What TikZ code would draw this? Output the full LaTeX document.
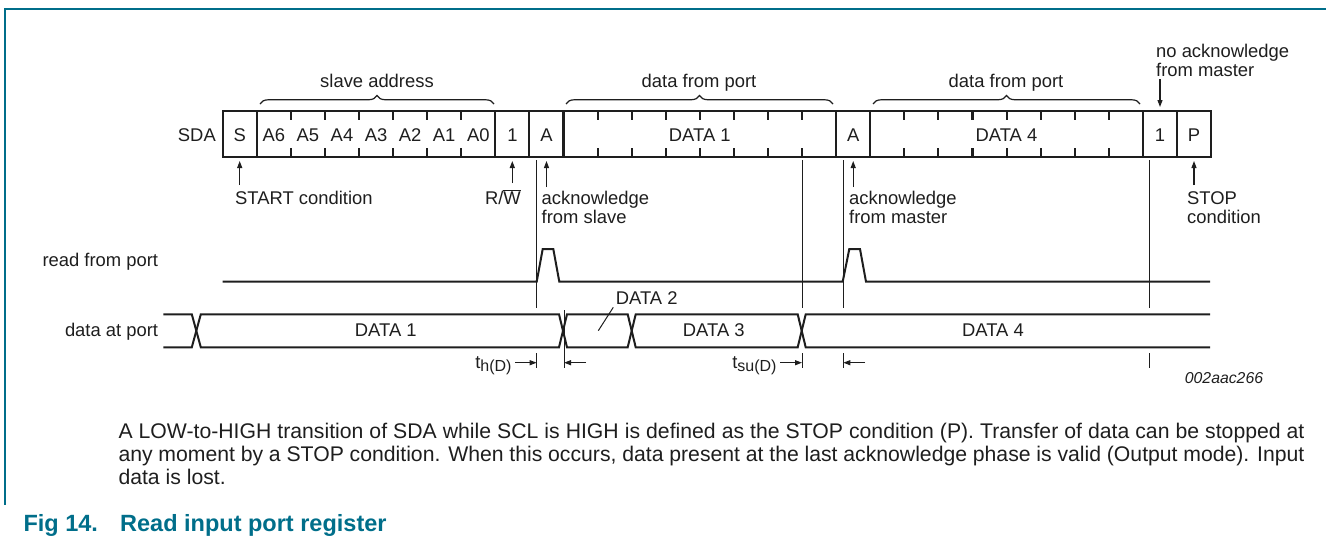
\documentclass[tikz,border=0pt]{standalone}
\usepackage{fontspec}
\setmainfont{Liberation Sans}
\usetikzlibrary{arrows.meta,decorations.pathreplacing}
\definecolor{nxpteal}{RGB}{0,110,138}
\definecolor{ink}{RGB}{30,30,30}
\begin{document}
\begin{tikzpicture}[x=1pt,y=-1pt,
  lbl/.style={font=\fontsize{18.4}{18.7}\selectfont, inner sep=0pt, text=ink},
  para/.style={font=\fontsize{21.2}{23.3}\selectfont, inner sep=0pt, text=ink, anchor=base west},
  ttl/.style={font=\fontsize{23.5}{26}\selectfont\bfseries, inner sep=0pt, text=nxpteal, anchor=base west},
  sdaline/.style={line width=2.1pt, draw=ink},
  sig/.style={line width=2pt, draw=ink, line join=miter},
  thinline/.style={line width=1pt, draw=ink},
  arr/.style={line width=1.1pt, draw=ink, -{Triangle[length=7pt,width=5pt]}},
  brc/.style={line width=1.2pt, draw=ink, decorate, decoration={brace, amplitude=8.5pt}},
  frame/.style={line width=2pt, draw=nxpteal}
]
\useasboundingbox (0,0) rectangle (1326,544);
% frame
\coordinate (fa) at (5,9.3);
\coordinate (fb) at (1326,9.3);
\coordinate (fc) at (5,505);
\draw[frame] (fb) -- (fa) -- (fc);

% SDA register
\draw[sdaline] (222.7,111) rectangle (1211,157);
\foreach \i in {1,8,9,10,18,19,27,28}
  \draw[sdaline] ({222.7+\i*34.08},111) -- ++(0,46);
\foreach \i in {2,...,7}
  {\draw[sdaline] ({222.7+\i*34.08},111) -- ++(0,9);
   \draw[sdaline] ({222.7+\i*34.08},157) -- ++(0,-9);}
\foreach \i in {11,...,17}
  {\draw[sdaline] ({222.7+\i*34.08},111) -- ++(0,9);
   \draw[sdaline] ({222.7+\i*34.08},157) -- ++(0,-9);}
\foreach \i in {20,...,26}
  {\draw[sdaline] ({222.7+\i*34.08},111) -- ++(0,9);
   \draw[sdaline] ({222.7+\i*34.08},157) -- ++(0,-9);}
\foreach \i/\t in {0/S,1/A6,2/A5,3/A4,4/A3,5/A2,6/A1,7/A0,8/1,9/A,18/A,27/1,28/P}
  \node[lbl, anchor=base] (c\i) at ({222.7+(\i+0.5)*34.08},141.7) {\t};
\node[lbl,anchor=base] (d1) at (699.8,141.7) {DATA 1};
\node[lbl,anchor=base] (d4) at (1006.5,141.7) {DATA 4};
\node[lbl,anchor=base east] (sda) at (216,141.7) {SDA};

% braces
\draw[brc] (260,104) -- (494,104);
\draw[brc] (566,104) -- (833,104);
\draw[brc] (873,104) -- (1140,104);
\node[lbl,anchor=base] (slv) at (377,87.3) {slave address};
\node[lbl,anchor=base] (dfp1) at (699,87.3) {data from port};
\node[lbl,anchor=base] (dfp2) at (1006,87.3) {data from port};

% no acknowledge
\node[lbl,anchor=base west] (na1) at (1156,57.3) {no acknowledge};
\node[lbl,anchor=base west] (na2) at (1156,76) {from master};
\coordinate (naT) at (1160,79);
\coordinate (naH) at (1160,107);
\draw[arr] (naT) -- (naH);

% labels below SDA
\node[lbl,anchor=base west] (st) at (235,204.3) {START condition};
\coordinate (stT) at (239.7,185); \coordinate (stH) at (239.7,161);
\draw[arr] (stT) -- (stH);
\node[lbl,anchor=base east] (rw) at (521,204.3) {R/$\overline{\mbox{W}}$};
\coordinate (rwT) at (512.3,183); \coordinate (rwH) at (512.3,161);
\draw[arr] (rwT) -- (rwH);
\node[lbl,anchor=base west] (as1) at (541.5,204.3) {acknowledge};
\node[lbl,anchor=base west] (as2) at (541.5,223) {from slave};
\coordinate (asT) at (546.5,187); \coordinate (asH) at (546.5,161);
\draw[arr] (asT) -- (asH);
\node[lbl,anchor=base west] (am1) at (849,204.3) {acknowledge};
\node[lbl,anchor=base west] (am2) at (849,223) {from master};
\coordinate (amT) at (853.2,187); \coordinate (amH) at (853.2,161);
\draw[arr] (amT) -- (amH);
\node[lbl,anchor=base west] (sp1) at (1187,204.3) {STOP};
\node[lbl,anchor=base west] (sp2) at (1187,223) {condition};
\coordinate (spT) at (1194,185); \coordinate (spH) at (1194,161);
\draw[arr] (spT) -- (spH);

% vertical guide lines
\foreach \x in {536.7,802,843.3,1149.3}
  {\draw[thinline] (\x,160) -- (\x,308);
   \draw[thinline] (\x,353) -- (\x,368);}
\draw[thinline] (564,310) -- (564,368);

% read from port
\node[lbl,anchor=base east] (rfp) at (158.3,266) {read from port};
\draw[sig] (222.7,281.7) -- (536.7,281.7) -- (542.7,249) -- (553.3,249) -- (559.3,281.7)
  -- (842.7,281.7) -- (849.3,249) -- (860,249) -- (866,281.7) -- (1210,281.7);

% data at port
\node[lbl,anchor=base east] (dap) at (158.3,336) {data at port};
\draw[sig] (163.3,314.3) -- (191.8,314.3) -- (200.8,347.3) -- (559,347.3) -- (567,314.3)
  -- (627.7,314.3) -- (635.7,347.3) -- (797.7,347.3) -- (805.7,314.3) -- (1210,314.3);
\draw[sig] (163.3,347.3) -- (191.8,347.3) -- (200.8,314.3) -- (559,314.3) -- (567,347.3)
  -- (627.7,347.3) -- (635.7,314.3) -- (797.7,314.3) -- (805.7,347.3) -- (1210,347.3);
\node[lbl,anchor=base] (pd1) at (385.8,336.7) {DATA 1};
\node[lbl,anchor=base] (pd3) at (713.8,336.7) {DATA 3};
\node[lbl,anchor=base] (pd4) at (993,336.7) {DATA 4};
\node[lbl,anchor=base] (pd2) at (646.7,304) {DATA 2};
\coordinate (ldA) at (613.3,307.3); \coordinate (ldB) at (598.3,330.7);
\draw[thinline] (ldA) -- (ldB);

% timing
\node[lbl,anchor=base east] (th) at (511.7,368) {t\raisebox{-3.5pt}{\fontsize{16}{16}\selectfont h(D)}};
\coordinate (thA) at (515,362.7); \coordinate (thB) at (536.7,362.7);
\draw[arr] (thA) -- (thB);
\coordinate (thC) at (586,362.7); \coordinate (thD) at (564,362.7);
\draw[arr] (thC) -- (thD);
\node[lbl,anchor=base east] (tsu) at (776.7,368) {t\raisebox{-3.5pt}{\fontsize{16}{16}\selectfont su(D)}};
\coordinate (tsA) at (780,362.7); \coordinate (tsB) at (802,362.7);
\draw[arr] (tsA) -- (tsB);
\coordinate (tsC) at (865,362.7); \coordinate (tsD) at (843.3,362.7);
\draw[arr] (tsC) -- (tsD);

\node[font=\fontsize{15.8}{16}\selectfont\itshape, inner sep=0pt, text=ink, anchor=base east] (ref) at (1263.3,383.3) {002aac266};

% paragraph
\node[para] (p1) at (118.3,438.3) {\makebox[1186pt][s]{A LOW-to-HIGH transition of SDA while SCL is HIGH is defined as the STOP condition (P). Transfer of data can be stopped at}};
\node[para] (p2) at (118.3,461.6) {\makebox[1186pt][s]{any moment by a STOP condition. When this occurs, data present at the last acknowledge phase is valid (Output mode). Input}};
\node[para] (p3) at (118.3,484.9) {data is lost.};

% title
\node[ttl] (f1) at (23.3,531.7) {Fig 14.};
\node[ttl] (f2) at (120,531.7) {Read input port register};
\end{tikzpicture}
\end{document}
